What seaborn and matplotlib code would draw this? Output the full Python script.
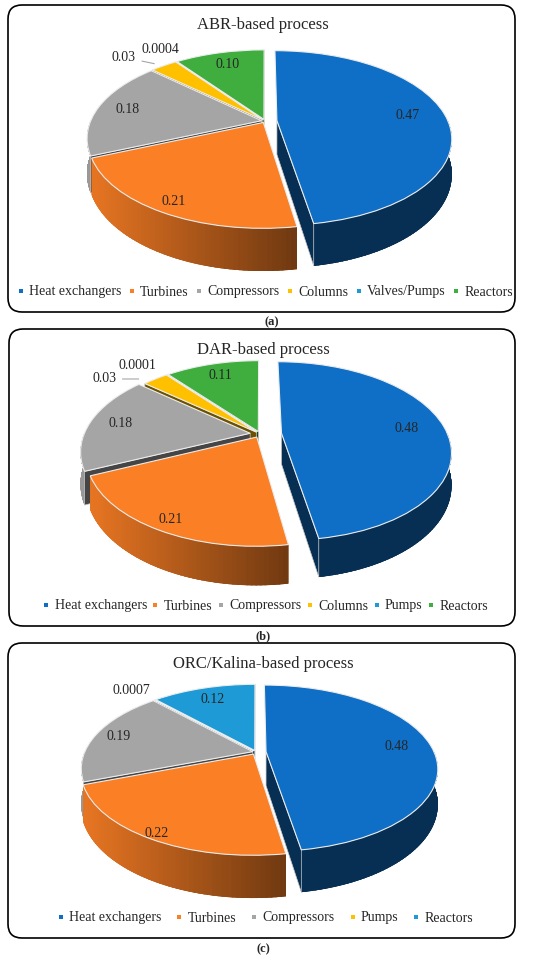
import numpy as np
import matplotlib
matplotlib.use("Agg")
import matplotlib.pyplot as plt
import seaborn as sns
from matplotlib.transforms import Transform
from matplotlib.patches import FancyBboxPatch, Polygon
from matplotlib.collections import PolyCollection
from matplotlib.lines import Line2D
from matplotlib.colors import to_rgb

# ---- data ----
abr_labels = ["Heat exchangers", "Turbines", "Compressors", "Columns", "Valves/Pumps", "Reactors"]
abr_values = [0.47, 0.21, 0.18, 0.03, 0.0004, 0.10]

dar_labels = ["Heat exchangers", "Turbines", "Compressors", "Columns", "Pumps", "Reactors"]
dar_values = [0.48, 0.21, 0.18, 0.03, 0.0001, 0.11]

orc_labels = ["Heat exchangers", "Turbines", "Compressors", "Pumps", "Reactors"]
orc_values = [0.48, 0.22, 0.19, 0.0007, 0.12]

titles = ["ABR-based process", "DAR-based process", "ORC/Kalina-based process"]
panel_tags = ["(a)", "(b)", "(c)"]

BLUE, ORANGE, GRAY, YELLOW, SKY, GREEN = "#0F6FC6", "#FA7F25", "#A5A5A5", "#FFC000", "#1E9AD6", "#3FAE3F"
abr_colors = [BLUE, ORANGE, GRAY, YELLOW, SKY, GREEN]
dar_colors = [BLUE, ORANGE, GRAY, YELLOW, SKY, GREEN]
orc_colors = [BLUE, ORANGE, GRAY, YELLOW, SKY]

sns.set_theme(style="white")
plt.rcParams['font.family'] = ['Liberation Serif', 'DejaVu Serif']

W, H = 550, 960


class PerspTransform(Transform):
    """unit pie disc -> tilted ellipse with a bit of perspective (pixels)"""
    input_dims = 2
    output_dims = 2

    def __init__(self, cx, cy, rx, ry, p):
        super().__init__()
        self.cx, self.cy, self.rx, self.ry, self.p = cx, cy, rx, ry, p

    def transform_non_affine(self, values):
        values = np.asarray(values, dtype=float)
        u, v = values[..., 0], values[..., 1]
        s = 1.0 / (1.0 + self.p * v)
        return np.stack([self.cx + self.rx * u * s, self.cy + self.ry * v * s], axis=-1)


def shade(color, f):
    r, g, b = to_rgb(color)
    return (r * f, g * f, b * f)


def wall_factor(x, cx, rx):
    t = (x - (cx - rx)) / (2 * rx)
    return float(np.clip(0.92 - 0.8 * t, 0.42, 0.92))


def fmt(v):
    return f"{v:.2f}" if v >= 0.01 else f"{v:.4f}"


def draw_pie3d(ax, values, colors, cx, cy, rx, ry, depth, explode, lab_cfg, p=0.2, base_z=10):
    wedges, _ = ax.pie(values, colors=colors, explode=explode, startangle=90,
                       counterclock=False, radius=1, center=(0, 0),
                       wedgeprops=dict(edgecolor="#ECECEC", linewidth=0.8))
    T = PerspTransform(cx, cy, rx, ry, p)

    def proj(u, v):
        u = np.asarray(u, float)
        v = np.asarray(v, float)
        s = 1.0 / (1.0 + p * v)
        return cx + rx * u * s, cy + ry * v * s, s

    def mid(w):
        return np.deg2rad(0.5 * (w.theta1 + w.theta2))

    keys = []
    for w in wedges:
        ox, oy = w.center
        a = mid(w)
        keys.append(proj(ox + 0.5 * np.cos(a), oy + 0.5 * np.sin(a))[1])
    order = np.argsort(keys)[::-1]  # back slices first

    for rank, i in enumerate(order):
        w = wedges[i]
        z = base_z + 3 * rank
        w.set_transform(T + ax.transData)
        w.set_zorder(z + 2)
        ox, oy = w.center
        t1, t2 = w.theta1, w.theta2
        col = colors[i]

        # curved outer wall (only the half facing the viewer)
        for k in (-1, 0, 1):
            a0, a1 = max(t1, -180 + 360 * k), min(t2, 360 * k)
            if a1 - a0 <= 0.05:
                continue
            ts = np.deg2rad(np.linspace(a0, a1, 60))
            x, y, s = proj(ox + np.cos(ts), oy + np.sin(ts))
            yb = y - depth * s
            outline = np.column_stack([np.r_[x, x[::-1]], np.r_[y, yb[::-1]]])
            fmid = wall_factor(x.mean(), cx, rx)
            ax.add_patch(Polygon(outline, closed=True, facecolor=shade(col, fmid),
                                 edgecolor="none", zorder=z))
            polys, fcs = [], []
            for j in range(len(ts) - 1):
                polys.append([(x[j], y[j]), (x[j + 1], y[j + 1]), (x[j + 1], yb[j + 1]), (x[j], yb[j])])
                fcs.append(shade(col, wall_factor(0.5 * (x[j] + x[j + 1]), cx, rx)))
            pc = PolyCollection(polys, facecolors=fcs, edgecolors=fcs,
                                linewidths=1.2, zorder=z)
            ax.add_collection(pc)
            pc.set_clip_path(Polygon(outline, closed=True, transform=ax.transData))

        # flat radial faces
        for t, vis in ((t1, np.cos(np.deg2rad(t1)) > 0), (t2, np.cos(np.deg2rad(t2)) < 0)):
            if not vis or values[i] < 0.005:
                continue
            tr = np.deg2rad(t)
            x, y, s = proj([ox, ox + np.cos(tr)], [oy, oy + np.sin(tr)])
            pts = [(x[0], y[0]), (x[1], y[1]), (x[1], y[1] - depth * s[1]), (x[0], y[0] - depth * s[0])]
            ax.add_patch(Polygon(pts, closed=True, facecolor=shade(col, 0.42),
                                 edgecolor="#C8C8C8", linewidth=0.5, zorder=z + 1))

    # data labels
    for i, w in enumerate(wedges):
        frac, dx, dy, leader = lab_cfg[i]
        ox, oy = w.center
        a = mid(w)
        x, y, _ = proj(ox + frac * np.cos(a), oy + frac * np.sin(a))
        txt = fmt(values[i])
        if dx == 0 and dy == 0:
            ax.text(float(x), float(y), txt, ha="center", va="center", fontsize=10, zorder=200)
        elif leader:
            ax.annotate(txt, xy=(float(x), float(y)), xytext=(dx, dy), textcoords="offset points",
                        ha="right", va="center", fontsize=10, zorder=200,
                        arrowprops=dict(arrowstyle="-", color="#A6A6A6", lw=0.8,
                                        shrinkA=2, shrinkB=leader))
        else:
            ax.annotate(txt, xy=(float(x), float(y)), xytext=(dx, dy), textcoords="offset points",
                        ha="center", va="center", fontsize=10, zorder=200)


fig = plt.figure(figsize=(W / 100, H / 100), dpi=100)
ax = fig.add_axes([0, 0, 1, 1])

panels = [
    dict(labels=abr_labels, values=abr_values, colors=abr_colors,
         box=(8, 5, 515, 312), title_y=25, tag_xy=(272, 322), legend_y=292, colsp=0.45,
         cx=265, cy=121, rx=171, ry=84, depth=34,
         explode=[0.07, 0.02, 0.02, 0.02, 0.02, 0.02],
         lab=[(0.78, 0, 0, 0), (0.9, 0, 0, 0), (0.82, 0, 0, 0), (1.0, -20, 6, 7),
              (1.0, -11.5, 8.6, 0), (0.8, 0, 0, 0)]),
    dict(labels=dar_labels, values=dar_values, colors=dar_colors,
         box=(9, 329, 515, 626), title_y=350, tag_xy=(263, 636), legend_y=606, colsp=0.31,
         cx=260, cy=434, rx=166, ry=86, depth=31,
         explode=[0.13, 0.04, 0.06, 0.03, 0.03, 0.03],
         lab=[(0.77, 0, 0, 0), (0.9, 0, 0, 0), (0.81, 0, 0, 0), (1.0, -28, 0, 12),
              (1.0, -21, 6.5, 0), (0.8, 0, 0, 0)]),
    dict(labels=orc_labels, values=orc_values, colors=orc_colors,
         box=(8, 643, 515, 938), title_y=664, tag_xy=(263, 949), legend_y=918, colsp=0.99,
         cx=256, cy=752, rx=168, ry=80, depth=34,
         explode=[0.06, 0.03, 0.02, 0.02, 0.02],
         lab=[(0.79, 0, 0, 0), (0.95, 0, 0, 0), (0.85, 0, 0, 0), (1.0, -16.5, 6.5, 0),
              (0.8, 0, 0, 0)]),
]

for n, pnl in enumerate(panels):
    x0, y0, x1, y1 = pnl["box"]
    ax.add_patch(FancyBboxPatch((x0, H - y1), x1 - x0, y1 - y0,
                                boxstyle="round,pad=0,rounding_size=14",
                                facecolor="white", edgecolor="black", linewidth=1.2, zorder=1))
    ax.text(263, H - pnl["title_y"], titles[n], ha="center", va="center", fontsize=12, zorder=200)
    ax.text(pnl["tag_xy"][0], H - pnl["tag_xy"][1], panel_tags[n], ha="center", va="center",
            fontsize=9, fontweight="bold", zorder=200)

    draw_pie3d(ax, pnl["values"], pnl["colors"], pnl["cx"], H - pnl["cy"], pnl["rx"], pnl["ry"],
               pnl["depth"], pnl["explode"], pnl["lab"], base_z=10 + 40 * n)

    handles = [Line2D([0], [0], marker="s", ls="none", markersize=3.3, markeredgewidth=0, color=c)
               for c in pnl["colors"]]
    fig.legend(handles, pnl["labels"], loc="center", bbox_to_anchor=(265 / W, 1 - pnl["legend_y"] / H),
               ncol=len(handles), frameon=False, fontsize=10, handlelength=0.6,
               handletextpad=0.3, columnspacing=pnl["colsp"], borderpad=0, borderaxespad=0)

ax.set_xlim(0, W)
ax.set_ylim(0, H)
ax.set_aspect("auto")
ax.axis("off")

fig.savefig("out.png", dpi=100, facecolor="white")
